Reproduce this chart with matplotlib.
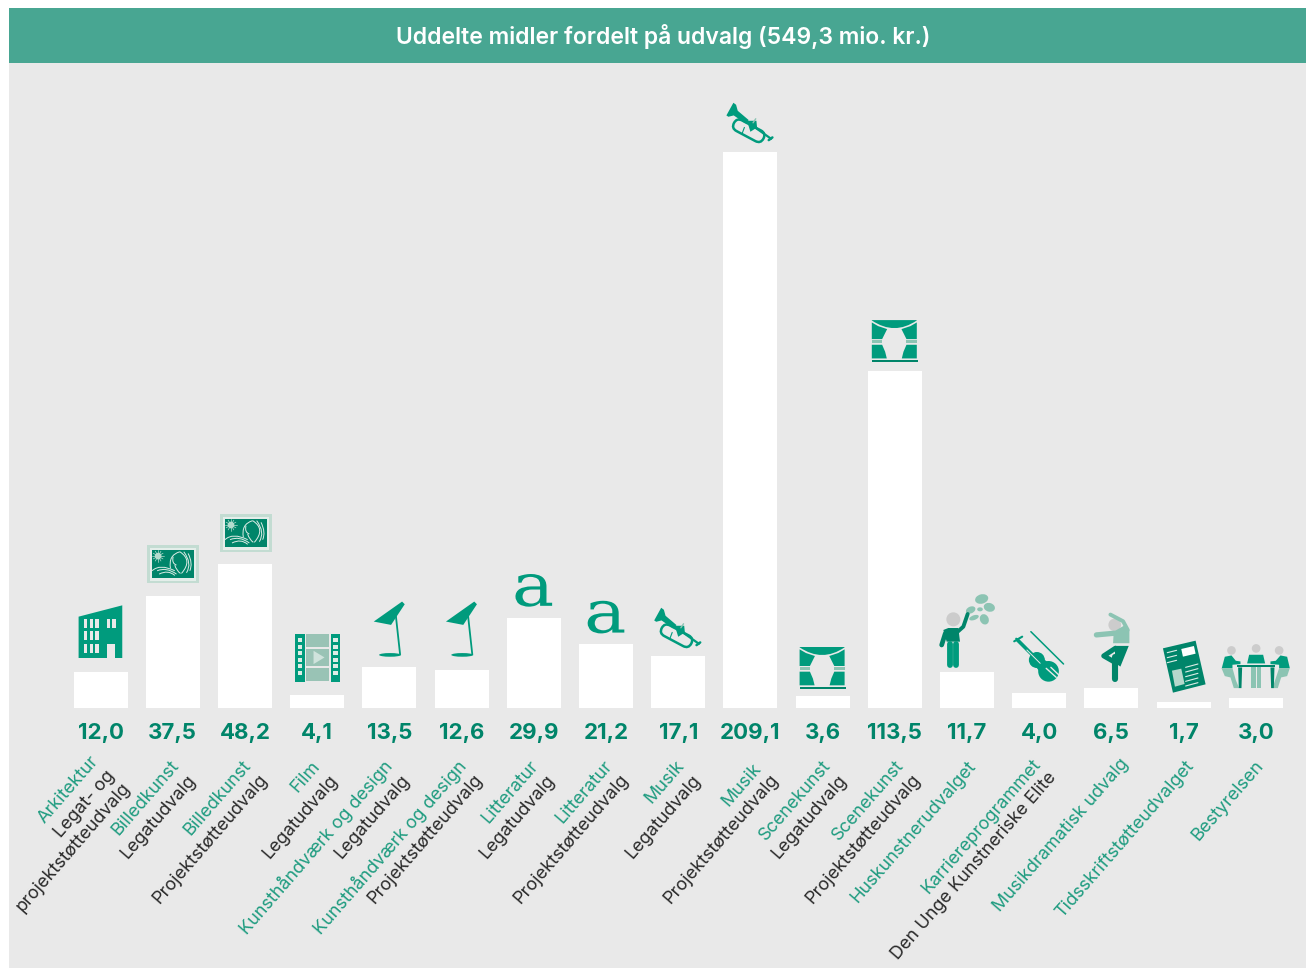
import numpy as np
import matplotlib
matplotlib.use("Agg")
import matplotlib.pyplot as plt
from matplotlib.patches import Rectangle, Polygon, Circle, Ellipse, PathPatch, FancyBboxPatch
from matplotlib.path import Path
from matplotlib.textpath import TextPath
from matplotlib.font_manager import FontProperties
from matplotlib.transforms import Affine2D

title = "Uddelte midler fordelt på udvalg (549,3 mio. kr.)"
committees = ["Arkitektur", "Billedkunst", "Billedkunst", "Film", "Kunsthåndværk og design",
              "Kunsthåndværk og design", "Litteratur", "Litteratur", "Musik", "Musik",
              "Scenekunst", "Scenekunst", "Huskunstnerudvalget", "Karriereprogrammet",
              "Musikdramatisk udvalg", "Tidsskriftstøtteudvalget", "Bestyrelsen"]
subcommittees = [["Legat- og", "projektstøtteudvalg"], ["Legatudvalg"], ["Projektstøtteudvalg"],
                 ["Legatudvalg"], ["Legatudvalg"], ["Projektstøtteudvalg"], ["Legatudvalg"],
                 ["Projektstøtteudvalg"], ["Legatudvalg"], ["Projektstøtteudvalg"], ["Legatudvalg"],
                 ["Projektstøtteudvalg"], [], ["Den Unge Kunstneriske Elite"], [], [], []]
values = ["12,0", "37,5", "48,2", "4,1", "13,5", "12,6", "29,9", "21,2", "17,1",
          "209,1", "3,6", "113,5", "11,7", "4,0", "6,5", "1,7", "3,0"]
# heights as drawn in the original, the Musik bar is cut short and does not reach 209,1
bar_heights = [12.0, 37.3, 48.0, 4.3, 13.7, 12.7, 30.0, 21.3, 17.3,
               185.3, 4.0, 112.3, 12.0, 5.0, 6.7, 2.0, 3.3]

# where the end of each label line sits, (dx from bar centre, dy below baseline) in pixels
label_ends = [[(-5, 50), (11, 65), (27, 77)], [(3, 55), (20, 69)], [(3, 55), (20, 69)],
              [(0, 55), (18, 69)], [(0, 55), (17, 69)], [(2, 55), (18, 69)],
              [(2, 55), (18, 69)], [(3, 55), (20, 69)], [(3, 55), (20, 69)],
              [(8, 58), (25, 69)], [(5, 55), (21, 69)], [(6, 55), (23, 69)],
              [(6, 55)], [(-1, 53), (14, 67)], [(14, 53)], [(7, 55)], [(5, 55)]]

BG = "#E9E9E9"
HEADER = "#48A692"
TEAL = "#009B7D"
DARK = "#00856A"
LIGHT = "#8CC4B3"
PALE = "#C3DCD2"
HEAD = "#CCCCCC"
LABEL_TEAL = "#1F9C80"
LABEL_DARK = "#2A2A2A"
FONT = "Inter"

W, H = 1314, 969
fig = plt.figure(figsize=(W / 100, H / 100), dpi=100, facecolor="white")

# page layer in pixels, y going down
page = fig.add_axes([0, 0, 1, 1])
page.set_xlim(0, W)
page.set_ylim(H, 0)
page.axis("off")
page.add_patch(Rectangle((9, 63), 1297, 905, fc=BG, ec="none"))
page.add_patch(Rectangle((9, 8), 1297, 55, fc=HEADER, ec="none"))
page.text(663, 36, title, color="white", fontsize=16.5, fontweight="semibold", family=FONT,
          ha="center", va="center")

# bars, 3 px per unit and 72.2 px per category
ax = fig.add_axes([64.5 / W, (H - 708) / H, 17 * 72.2 / W, 628 / H])
ax.patch.set_alpha(0)
ax.set_xlim(-0.5, 16.5)
ax.set_ylim(0, 628 / 3)
ax.axis("off")
x = np.arange(len(bar_heights))
ax.bar(x, bar_heights, width=0.748, color="white", linewidth=0)

for i, val in enumerate(values):
    ax.annotate(val, xy=(i, 0), xytext=(0, -25), textcoords="offset pixels", ha="center",
                va="center", color=DARK, fontsize=16, fontweight="bold", family=FONT,
                annotation_clip=False)
    lines = [committees[i]] + subcommittees[i]
    for j, line in enumerate(lines):
        dx, dy = label_ends[i][j]
        ax.annotate(line, xy=(i, 0), xytext=(dx, -dy), textcoords="offset pixels", ha="right",
                    va="center", rotation=49, rotation_mode="anchor", family=FONT,
                    fontweight="normal", fontsize=13,
                    color=LABEL_TEAL if j == 0 else LABEL_DARK, annotation_clip=False)


# icons are sketched in units of 1/3 px, (ax0, ay0) is the spot that lands on the bar top centre
def icon_tf(i, ax0, ay0, dx=0, dy=0):
    px, py = ax.transData.transform((i, bar_heights[i]))
    return Affine2D().scale(1 / 3).translate(px - ax0 / 3 + dx / 3, H - py - ay0 / 3 + dy / 3) + page.transData


def poly(tf, pts, color):
    page.add_patch(Polygon(pts, closed=True, fc=color, ec="none", transform=tf))


def rect(tf, x0, y0, x1, y1, color):
    page.add_patch(Rectangle((x0, y0), x1 - x0, y1 - y0, fc=color, ec="none", transform=tf))


def stroke(tf, pts, color, lw):
    xs, ys = zip(*pts)
    page.plot(xs, ys, color=color, lw=lw, transform=tf, solid_capstyle="round", solid_joinstyle="round")


def curve(tf, p0, c, p1, color, lw=0.7):
    path = Path([p0, c, p1], [Path.MOVETO, Path.CURVE3, Path.CURVE3])
    page.add_patch(PathPatch(path, fc="none", ec=color, lw=lw, transform=tf))


def building(i):
    tf = icon_tf(i, 123, 516)
    poly(tf, [(57, 350), (188, 316), (188, 474), (57, 474)], TEAL)
    for wx in [72, 90, 107, 141, 158]:
        rect(tf, wx, 358, wx + 10, 384, BG)
    for wx in [72, 90, 107]:
        rect(tf, wx, 394, wx + 10, 420, BG)
        rect(tf, wx, 432, wx + 10, 458, BG)
    rect(tf, 142, 432, 166, 474, BG)


def painting(i, dx=0, dy=0):
    tf = icon_tf(i, 339, 288, dx, dy)
    rect(tf, 262, 135, 417, 250, PALE)
    rect(tf, 270, 143, 410, 243, "#E4EEEA")
    rect(tf, 276, 150, 402, 235, DARK)
    for a in np.radians(np.arange(0, 360, 30)):
        stroke(tf, [(295, 168), (295 + 17 * np.cos(a), 168 + 17 * np.sin(a))], "#B5DCCE", 0.5)
    page.add_patch(Circle((295, 168), 10, fc="#B5DCCE", ec="none", transform=tf))
    col = "#DDEDE7"
    curve(tf, (332, 205), (325, 165), (360, 155), col)
    curve(tf, (360, 155), (400, 180), (365, 220), col)
    curve(tf, (372, 155), (398, 190), (380, 218), col)
    curve(tf, (385, 160), (400, 190), (390, 212), col)
    curve(tf, (340, 170), (335, 190), (350, 195), col)
    curve(tf, (345, 195), (350, 212), (362, 220), col)
    curve(tf, (277, 212), (300, 190), (345, 212), col)
    curve(tf, (292, 212), (320, 200), (350, 222), col)
    curve(tf, (298, 222), (325, 208), (345, 226), col)


def film(i):
    tf = icon_tf(i, 771, 585)
    for sx in [705, 812]:
        rect(tf, sx, 402, sx + 28, 545, TEAL)
        for hy in [420, 440, 460, 480, 498, 518]:
            rect(tf, sx + 7, hy - 6, sx + 21, hy + 6, "#DDEDE7")
    rect(tf, 738, 402, 806, 440, "#99C3B5")
    rect(tf, 738, 446, 806, 497, "#99C3B5")
    rect(tf, 738, 503, 806, 543, "#99C3B5")
    poly(tf, [(760, 452), (793, 472), (760, 492)], "#CFE3DC")


def lamp(i, dy=0):
    tf = icon_tf(i, 90, 321, 0, dy)
    poly(tf, [(43, 185), (128, 125), (136, 133), (95, 195)], TEAL)
    stroke(tf, [(108, 155), (122, 283)], TEAL, 1.3)
    page.add_patch(Ellipse((92, 285), 66, 11, fc=TEAL, ec="none", transform=tf))


def letter_a(i, y_top, y_bot, half=55):
    # glyph from the serif font stretched to the size of the original icon
    px, py = ax.transData.transform((i, bar_heights[i]))
    py = H - py
    path = TextPath((0, 0), "a", size=10, prop=FontProperties(family="DejaVu Serif"))
    b = path.get_extents()
    tf = (Affine2D().translate(-b.x0 - b.width / 2, -b.y0).scale(2 * half / 3 / b.width, -(y_bot - y_top) / 3 / b.height)
          .translate(px, py + y_bot / 3) + page.transData)
    page.add_patch(PathPatch(path, fc=TEAL, ec="none", transform=tf))


def trumpet(i, dx=0, dy=0):
    tf = icon_tf(i, 150, 186, dx, dy)
    poly(tf, [(78, 76), (99, 38), (107, 44), (112, 62), (145, 90), (135, 100), (100, 76), (84, 80)], TEAL)
    stroke(tf, [(140, 95), (212, 146)], TEAL, 1.6)
    stroke(tf, [(205, 150), (216, 142)], TEAL, 1.8)
    loop = FancyBboxPatch((-50, -18), 100, 36, boxstyle="round,pad=0,rounding_size=18", fc="none", ec=TEAL, lw=1.8,
                          transform=Affine2D().rotate_deg(28).translate(145, 122) + tf)
    page.add_patch(loop)
    poly(tf, [(140, 92), (168, 92), (170, 112), (150, 125)], TEAL)
    stroke(tf, [(132, 112), (126, 128)], TEAL, 0.8)
    stroke(tf, [(158, 98), (166, 86)], LIGHT, 1.0)


def stage(i, dy=0):
    tf = icon_tf(i, 585, 843, 0, dy)
    arc = Path([(516, 690), (651, 690), (651, 691), (584, 737), (516, 691), (516, 690)],
               [Path.MOVETO, Path.LINETO, Path.LINETO, Path.CURVE3, Path.CURVE3, Path.CLOSEPOLY])
    page.add_patch(PathPatch(arc, fc=TEAL, ec="none", transform=tf))
    for m in [lambda v: v, lambda v: 1167 - v]:
        poly(tf, [(m(516), 697), (m(535), 708), (m(562), 717), (m(547), 747), (m(516), 747)], TEAL)
        rect(tf, m(516), 749, m(547), 760, LIGHT)
        poly(tf, [(m(516), 764), (m(547), 764), (m(556), 785), (m(561), 805), (m(516), 805)], TEAL)
    rect(tf, 516, 810, 654, 816, DARK)


def painter(i):
    tf = icon_tf(i, 111, 276)
    for cx, cy, w, h, a in [(155, 57, 40, 28, -15), (178, 82, 34, 26, 15), (122, 90, 30, 20, -25),
                            (150, 88, 17, 12, 0), (163, 118, 26, 32, -25), (132, 113, 30, 14, -20)]:
        page.add_patch(Ellipse((cx, cy), w, h, angle=a, fc=LIGHT, ec="none", transform=tf))
    page.add_patch(Circle((70, 118), 21, fc=HEAD, ec="none", transform=tf))
    stroke(tf, [(59, 192), (59, 254)], TEAL, 4.2)
    stroke(tf, [(79, 192), (79, 254)], TEAL, 4.2)
    stroke(tf, [(46, 160), (35, 195)], DARK, 3.4)
    poly(tf, [(40, 150), (55, 144), (85, 144), (90, 185), (50, 185)], DARK)
    stroke(tf, [(82, 156), (100, 140), (113, 102)], DARK, 2.8)


def violin(i):
    tf = icon_tf(i, 327, 339)
    stroke(tf, [(302, 155), (400, 252)], TEAL, 1.1)
    stroke(tf, [(262, 180), (320, 238)], TEAL, 2.6)
    stroke(tf, [(252, 184), (276, 170)], TEAL, 1.5)
    stroke(tf, [(258, 176), (270, 188)], TEAL, 1.5)
    page.add_patch(Circle((320, 240), 24, fc=TEAL, ec="none", transform=tf))
    page.add_patch(Circle((355, 274), 31, fc=TEAL, ec="none", transform=tf))
    poly(tf, [(305, 245), (325, 225), (372, 262), (340, 290)], TEAL)
    stroke(tf, [(290, 210), (330, 250)], BG, 0.7)
    stroke(tf, [(348, 265), (378, 292)], BG, 1.0)
    stroke(tf, [(362, 262), (386, 285)], BG, 1.0)


def dancer(i):
    tf = icon_tf(i, 543, 324)
    page.add_patch(Circle((553, 135), 19, fc=HEAD, ec="none", transform=tf))
    stroke(tf, [(540, 104), (578, 124), (592, 150)], LIGHT, 2.8)
    stroke(tf, [(498, 165), (552, 160)], LIGHT, 3.8)
    poly(tf, [(550, 155), (585, 135), (597, 150), (597, 190), (548, 190)], LIGHT)
    poly(tf, [(553, 198), (595, 198), (570, 260), (555, 250)], DARK)
    stroke(tf, [(555, 230), (555, 297)], DARK, 4.4)
    stroke(tf, [(555, 205), (520, 228), (555, 248)], DARK, 3.6)


def newspaper(i):
    tf = icon_tf(i, 759, 366)
    poly(tf, [(697, 205), (795, 182), (825, 313), (727, 338)], DARK)
    poly(tf, [(752, 207), (790, 198), (795, 221), (757, 230)], "white")
    poly(tf, [(724, 272), (752, 266), (762, 312), (733, 320)], "#B5D8CC")
    for k in range(3):
        stroke(tf, [(710, 218 + k * 15), (738, 211 + k * 15)], "#DDEDE7", 0.8)
    for k in range(5):
        stroke(tf, [(765, 262 + k * 14), (802, 252 + k * 14)], "#DDEDE7", 0.8)


def meeting(i):
    tf = icon_tf(i, 978, 354)
    for cx, cy in [(905, 211), (979, 205), (1048, 211)]:
        page.add_patch(Circle((cx, cy), 13, fc=HEAD, ec="none", transform=tf))
    # seated people either side, legs light and tops dark
    poly(tf, [(876, 264), (885, 230), (905, 226), (918, 242), (932, 244), (932, 252), (908, 254), (908, 264)], TEAL)
    poly(tf, [(875, 264), (908, 264), (918, 300), (928, 324), (912, 324), (902, 292), (885, 288)], LIGHT)
    poly(tf, [(1080, 264), (1072, 230), (1052, 226), (1038, 242), (1022, 244), (1022, 252), (1048, 254), (1048, 264)], TEAL)
    poly(tf, [(1080, 264), (1048, 264), (1036, 300), (1028, 324), (1044, 324), (1054, 292), (1072, 288)], LIGHT)
    poly(tf, [(952, 250), (958, 224), (1000, 224), (1006, 250)], TEAL)
    rect(tf, 964, 262, 978, 324, LIGHT)
    rect(tf, 981, 262, 995, 324, LIGHT)
    rect(tf, 922, 254, 1035, 262, DARK)
    poly(tf, [(925, 262), (937, 262), (935, 324), (927, 324)], DARK)
    poly(tf, [(1022, 262), (1034, 262), (1032, 324), (1024, 324)], DARK)


building(0)
painting(1)
painting(2, 2, 3)
film(3)
lamp(4)
lamp(5, -9)
letter_a(6, -132, -34)
letter_a(7, -130, -32)
trumpet(8, 0, 3)
trumpet(9)
stage(10, 6)
stage(11)
painter(12)
violin(13)
dancer(14)
newspaper(15)
meeting(16)

page.set_xlim(0, W)
page.set_ylim(H, 0)
fig.savefig("out.png", dpi=100, facecolor="white")
